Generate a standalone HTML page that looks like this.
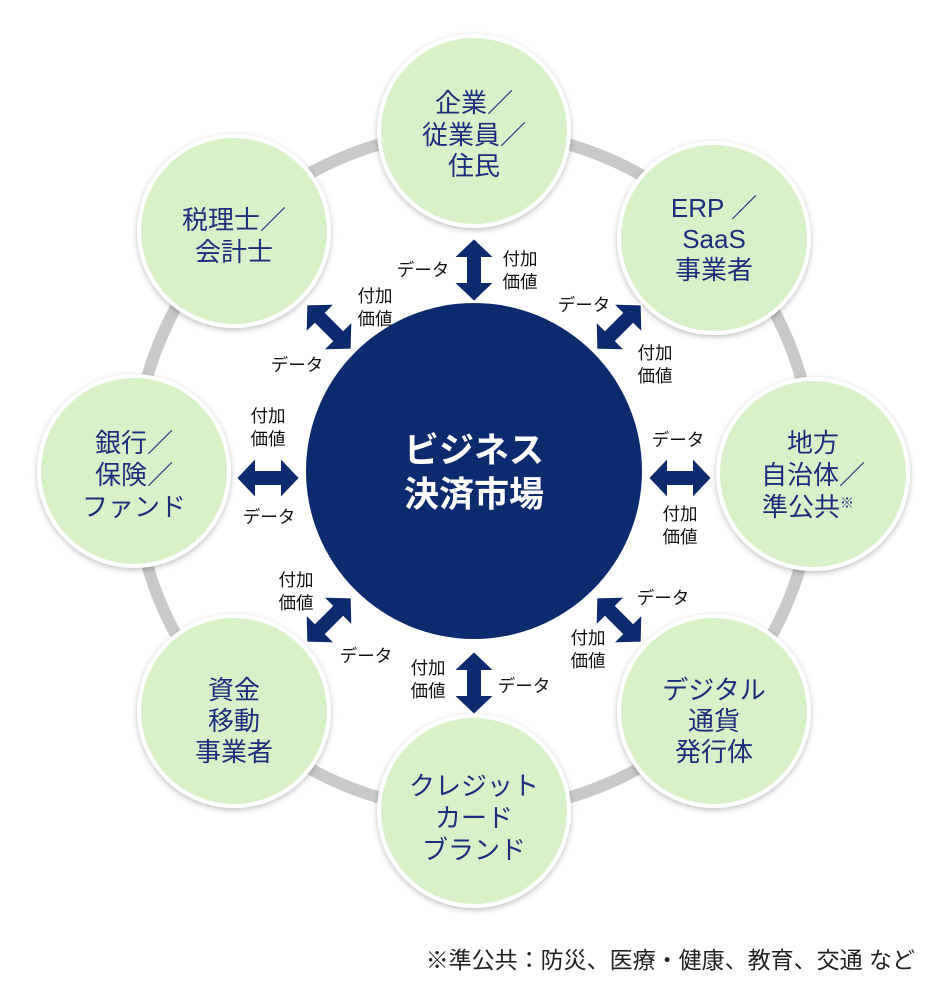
<!DOCTYPE html>
<html><head><meta charset="utf-8"><style>
html,body{margin:0;padding:0;background:#fff}
svg{display:block}
.n{font-family:"Liberation Sans","Noto Sans CJK JP",sans-serif;font-size:26px;fill:#1b2f7c;text-anchor:middle;dominant-baseline:central}
.l{font-family:"Liberation Sans","Noto Sans CJK JP",sans-serif;font-size:17.5px;fill:#111;text-anchor:middle;dominant-baseline:central}
.c{font-family:"Liberation Sans","Noto Sans CJK JP",sans-serif;font-size:35px;font-weight:bold;fill:#fff;text-anchor:middle;dominant-baseline:central}
</style></head><body>
<svg width="950" height="995" viewBox="0 0 950 995" xmlns="http://www.w3.org/2000/svg">
<defs>
<filter id="sh" x="-20%" y="-20%" width="140%" height="140%"><feDropShadow dx="0" dy="2" stdDeviation="3" flood-color="#000" flood-opacity="0.25"/></filter>
<polygon id="ar" points="-32,0 -12,-21 -12,-8 12,-8 12,-21 32,0 12,21 12,8 -12,8 -12,21" fill="#0c2a6e" stroke="#fff" stroke-width="2"/>
</defs>
<circle cx="474" cy="471" r="340" fill="none" stroke="#c9c9c9" stroke-width="12"/>
<g filter="url(#sh)" fill="#d9f1c9" stroke="#fff" stroke-width="4">
<circle cx="474" cy="131" r="95"/>
<circle cx="714" cy="238" r="95"/>
<circle cx="813" cy="474" r="95"/>
<circle cx="714" cy="711" r="95"/>
<circle cx="474" cy="811" r="95"/>
<circle cx="234" cy="711" r="95"/>
<circle cx="134" cy="471" r="95"/>
<circle cx="234" cy="231" r="95"/>
</g>
<circle cx="474" cy="471" r="168" fill="#0c2a6e"/>
<text class="c" x="474" y="451">ビジネス</text>
<text class="c" x="474" y="495">決済市場</text>

<text class="n" x="474" y="103">企業／</text><text class="n" x="474" y="135">従業員／</text><text class="n" x="474" y="166">住民</text>
<text class="n" x="714" y="208">ERP ／</text><text class="n" x="714" y="239">SaaS</text><text class="n" x="714" y="270">事業者</text>
<text class="n" x="813" y="443">地方</text><text class="n" x="813" y="475">自治体／</text><text class="n" x="808" y="507">準公共<tspan font-size="14" dy="-4">※</tspan></text>
<text class="n" x="714" y="690">デジタル</text><text class="n" x="714" y="721">通貨</text><text class="n" x="714" y="752">発行体</text>
<text class="n" x="474" y="786">クレジット</text><text class="n" x="474" y="818">カード</text><text class="n" x="474" y="850">ブランド</text>
<text class="n" x="234" y="690">資金</text><text class="n" x="234" y="721">移動</text><text class="n" x="234" y="752">事業者</text>
<text class="n" x="134" y="443">銀行／</text><text class="n" x="134" y="475">保険／</text><text class="n" x="134" y="507">ファンド</text>
<text class="n" x="234" y="220">税理士／</text><text class="n" x="234" y="252">会計士</text>

<use href="#ar" transform="translate(474,270) rotate(90)"/>
<use href="#ar" transform="translate(329,327) rotate(45)"/>
<use href="#ar" transform="translate(619,327) rotate(135)"/>
<use href="#ar" transform="translate(680,478)"/>
<use href="#ar" transform="translate(619,620) rotate(45)"/>
<use href="#ar" transform="translate(474,683) rotate(90)"/>
<use href="#ar" transform="translate(329,620) rotate(135)"/>
<use href="#ar" transform="translate(268,478)"/>

<text class="l" x="423" y="270">データ</text><text class="l" x="520" y="259">付加</text><text class="l" x="520" y="282">価値</text>
<text class="l" x="375" y="296">付加</text><text class="l" x="375" y="319">価値</text><text class="l" x="297" y="365">データ</text>
<text class="l" x="584" y="305">データ</text><text class="l" x="655" y="353">付加</text><text class="l" x="655" y="376">価値</text>
<text class="l" x="678" y="440">データ</text><text class="l" x="680" y="514">付加</text><text class="l" x="680" y="537">価値</text>
<text class="l" x="663" y="598">データ</text><text class="l" x="588" y="638">付加</text><text class="l" x="588" y="661">価値</text>
<text class="l" x="428" y="668">付加</text><text class="l" x="428" y="691">価値</text><text class="l" x="524" y="686">データ</text>
<text class="l" x="296" y="580">付加</text><text class="l" x="296" y="603">価値</text><text class="l" x="366" y="656">データ</text>
<text class="l" x="268" y="416">付加</text><text class="l" x="268" y="439">価値</text><text class="l" x="269" y="517">データ</text>

<text x="915" y="960" font-family="Liberation Sans,Noto Sans CJK JP,sans-serif" font-size="23" fill="#222" text-anchor="end" dominant-baseline="central">※準公共：防災、医療・健康、教育、交通 など</text>
</svg>
</body></html>
